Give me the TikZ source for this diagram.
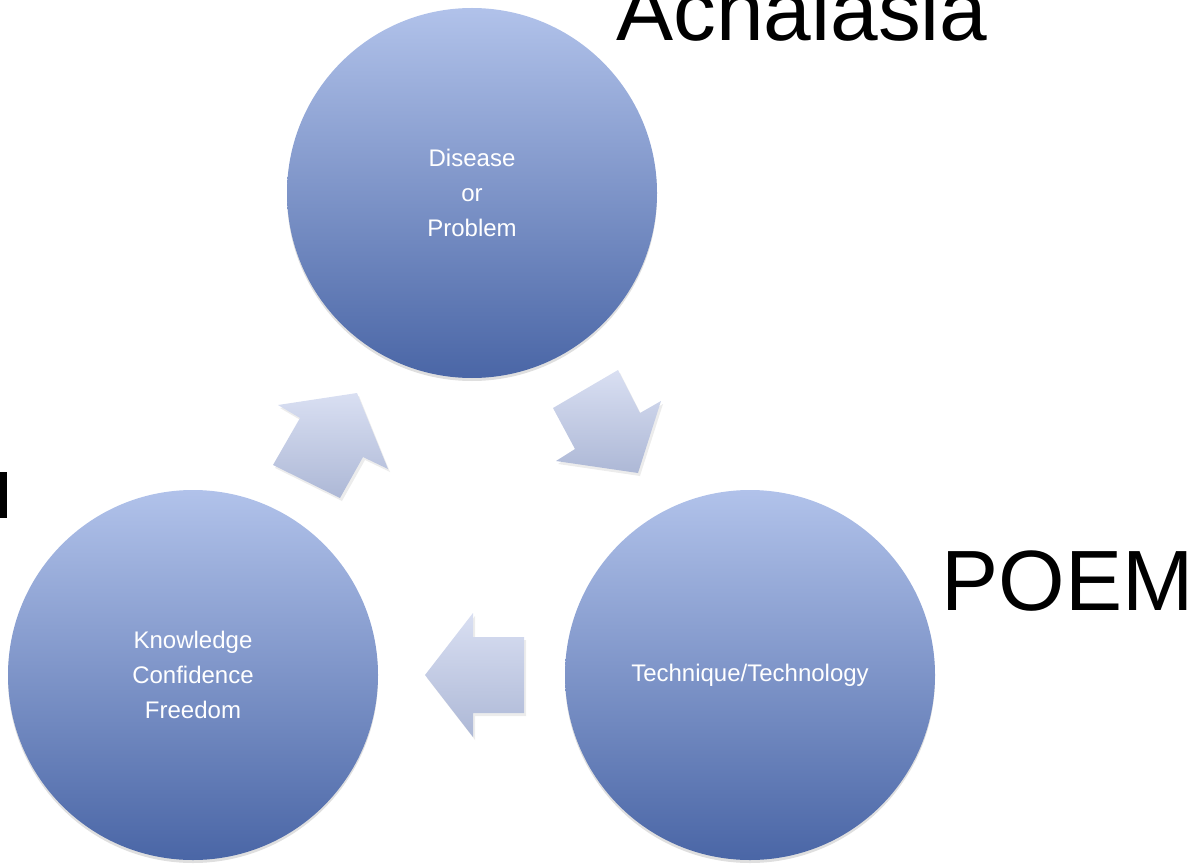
\documentclass[tikz,border=0pt]{standalone}
\usepackage{fontspec}
\setmainfont{Liberation Sans}
\usepackage{xcolor}
\usepackage{tikz}
\usetikzlibrary{positioning,shadows}
\definecolor{ctop}{HTML}{B1C2EA}
\definecolor{cbot}{HTML}{4A66A6}
\definecolor{atop}{HTML}{D9DFF2}
\definecolor{abot}{HTML}{ADB8D6}

\tikzset{
    bubble/.style={circle, minimum size=185pt, inner sep=0pt, top color=ctop, bottom color=cbot,
        text=white, align=center, font=\fontsize{12}{17.5}\selectfont,
        drop shadow={opacity=0.25, shadow xshift=0pt, shadow yshift=-1.5pt}},
    cyclearrow/.style={top color=atop, bottom color=abot,
        drop shadow={opacity=0.15, shadow xshift=1pt, shadow yshift=-1.5pt}},
    bigword/.style={anchor=base west, inner sep=0pt, font=\fontsize{42.8}{50}\selectfont}
}

\begin{document}
\begin{tikzpicture}[x=0.5pt, y=-0.5pt]
    \useasboundingbox (0,0) rectangle (1192,866);
    % Circles
    \node[bubble] (problem) at (472,193) {Disease\\or\\Problem};
    \node[bubble] (technique) at (750,675) {Technique/Technology};
    \node[bubble] (knowledge) at (193,675) {Knowledge\\Confidence\\Freedom};
    % Arrows between circles
    % Problem -> Technique
    \shade[cyclearrow] (553,408) -- (618,370) -- (640,413) -- (661,401) -- (638,473) -- (556,461) -- (575,449) -- cycle;
    % Technique -> Knowledge
    \shade[cyclearrow] (425,675) -- (473,613) -- (473,637) -- (524,637) -- (524,713) -- (473,713) -- (473,737) -- cycle;
    % Knowledge -> Problem
    \shade[cyclearrow] (357,393) -- (388,469) -- (363,457) -- (340,498) -- (273,465) -- (300,418) -- (278,405) -- cycle;
    % Side labels
    \node[bigword] (disease) at (616,41) {Achalasia};
    \node[bigword] (method) at (941,610) {POEM};
    \fill (0,472) rectangle (7,518);
\end{tikzpicture}
\end{document}
